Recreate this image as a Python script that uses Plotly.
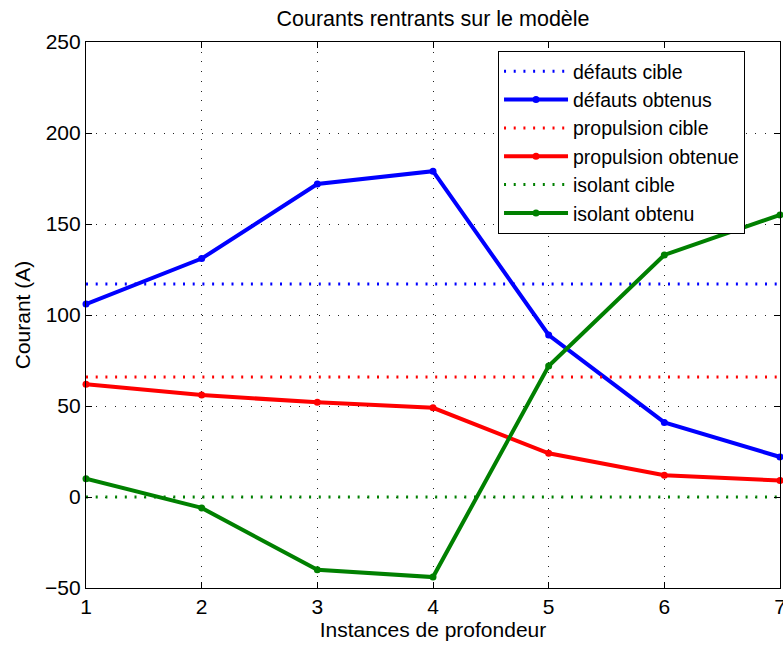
import plotly.graph_objects as go

# Depth instances on the x axis
instances = [1, 2, 3, 4, 5, 6, 7]

# Target currents (constant per group) and obtained currents, in amperes
defauts_cible = [117, 117, 117, 117, 117, 117, 117]
defauts_obtenus = [106, 131, 172, 179, 89, 41, 22]

propulsion_cible = [66, 66, 66, 66, 66, 66, 66]
propulsion_obtenue = [62, 56, 52, 49, 24, 12, 9]

isolant_cible = [0, 0, 0, 0, 0, 0, 0]
isolant_obtenu = [10, -6, -40, -44, 72, 133, 155]

x_ticks = [1, 2, 3, 4, 5, 6, 7]
y_ticks = [-50, 0, 50, 100, 150, 200, 250]

BLUE = "#0000FF"
RED = "#FF0000"
GREEN = "#008000"
FONT = "Liberation Sans, Arial, sans-serif"

dotted = dict(width=3, dash="2px,7.7px")


def cible(name, y, color):
    return go.Scatter(
        x=instances, y=y, name=name, mode="lines",
        line=dict(color=color, **dotted), cliponaxis=False,
    )


def obtenu(name, y, color):
    return go.Scatter(
        x=instances, y=y, name=name, mode="lines+markers",
        line=dict(color=color, width=4),
        marker=dict(color=color, size=7),
        cliponaxis=False,
    )


fig = go.Figure([
    cible("défauts cible", defauts_cible, BLUE),
    obtenu("défauts obtenus", defauts_obtenus, BLUE),
    cible("propulsion cible", propulsion_cible, RED),
    obtenu("propulsion obtenue", propulsion_obtenue, RED),
    cible("isolant cible", isolant_cible, GREEN),
    obtenu("isolant obtenu", isolant_obtenu, GREEN),
])

axis_common = dict(
    showline=True, linecolor="black", linewidth=1.2, mirror="ticks",
    ticks="inside", ticklen=6, tickcolor="black", tickwidth=1,
    showgrid=True, gridcolor="#222222", gridwidth=1, griddash="1px,8.7px",
    zeroline=False, ticklabeloverflow="allow",
    tickfont=dict(family=FONT, size=21, color="black"),
)

fig.update_xaxes(
    range=[1, 7], tickvals=x_ticks,
    title=dict(text="Instances de profondeur", standoff=5,
               font=dict(family=FONT, size=21, color="black")),
    **axis_common,
)
fig.update_yaxes(
    range=[-50, 250], tickvals=y_ticks,
    title=dict(text="Courant (A)", standoff=8,
               font=dict(family=FONT, size=21, color="black")),
    **axis_common,
)

fig.update_layout(
    width=783, height=645,
    margin=dict(l=86, r=3, t=42, b=57, autoexpand=False),
    paper_bgcolor="white", plot_bgcolor="white",
    font=dict(family=FONT, size=21, color="black"),
    title=dict(text="Courants rentrants sur le modèle",
               x=(433 / 783), xanchor="center",
               y=1 - 18 / 645, yref="container", yanchor="middle",
               font=dict(family=FONT, size=21.5, color="black")),
    legend=dict(
        x=0.9496, xanchor="right", y=0.9835, yanchor="top",
        bgcolor="white", bordercolor="black", borderwidth=1,
        itemwidth=64, tracegroupgap=0,
        font=dict(family=FONT, size=19.5, color="black"),
    ),
    showlegend=True,
)

fig.write_html("out.html")
